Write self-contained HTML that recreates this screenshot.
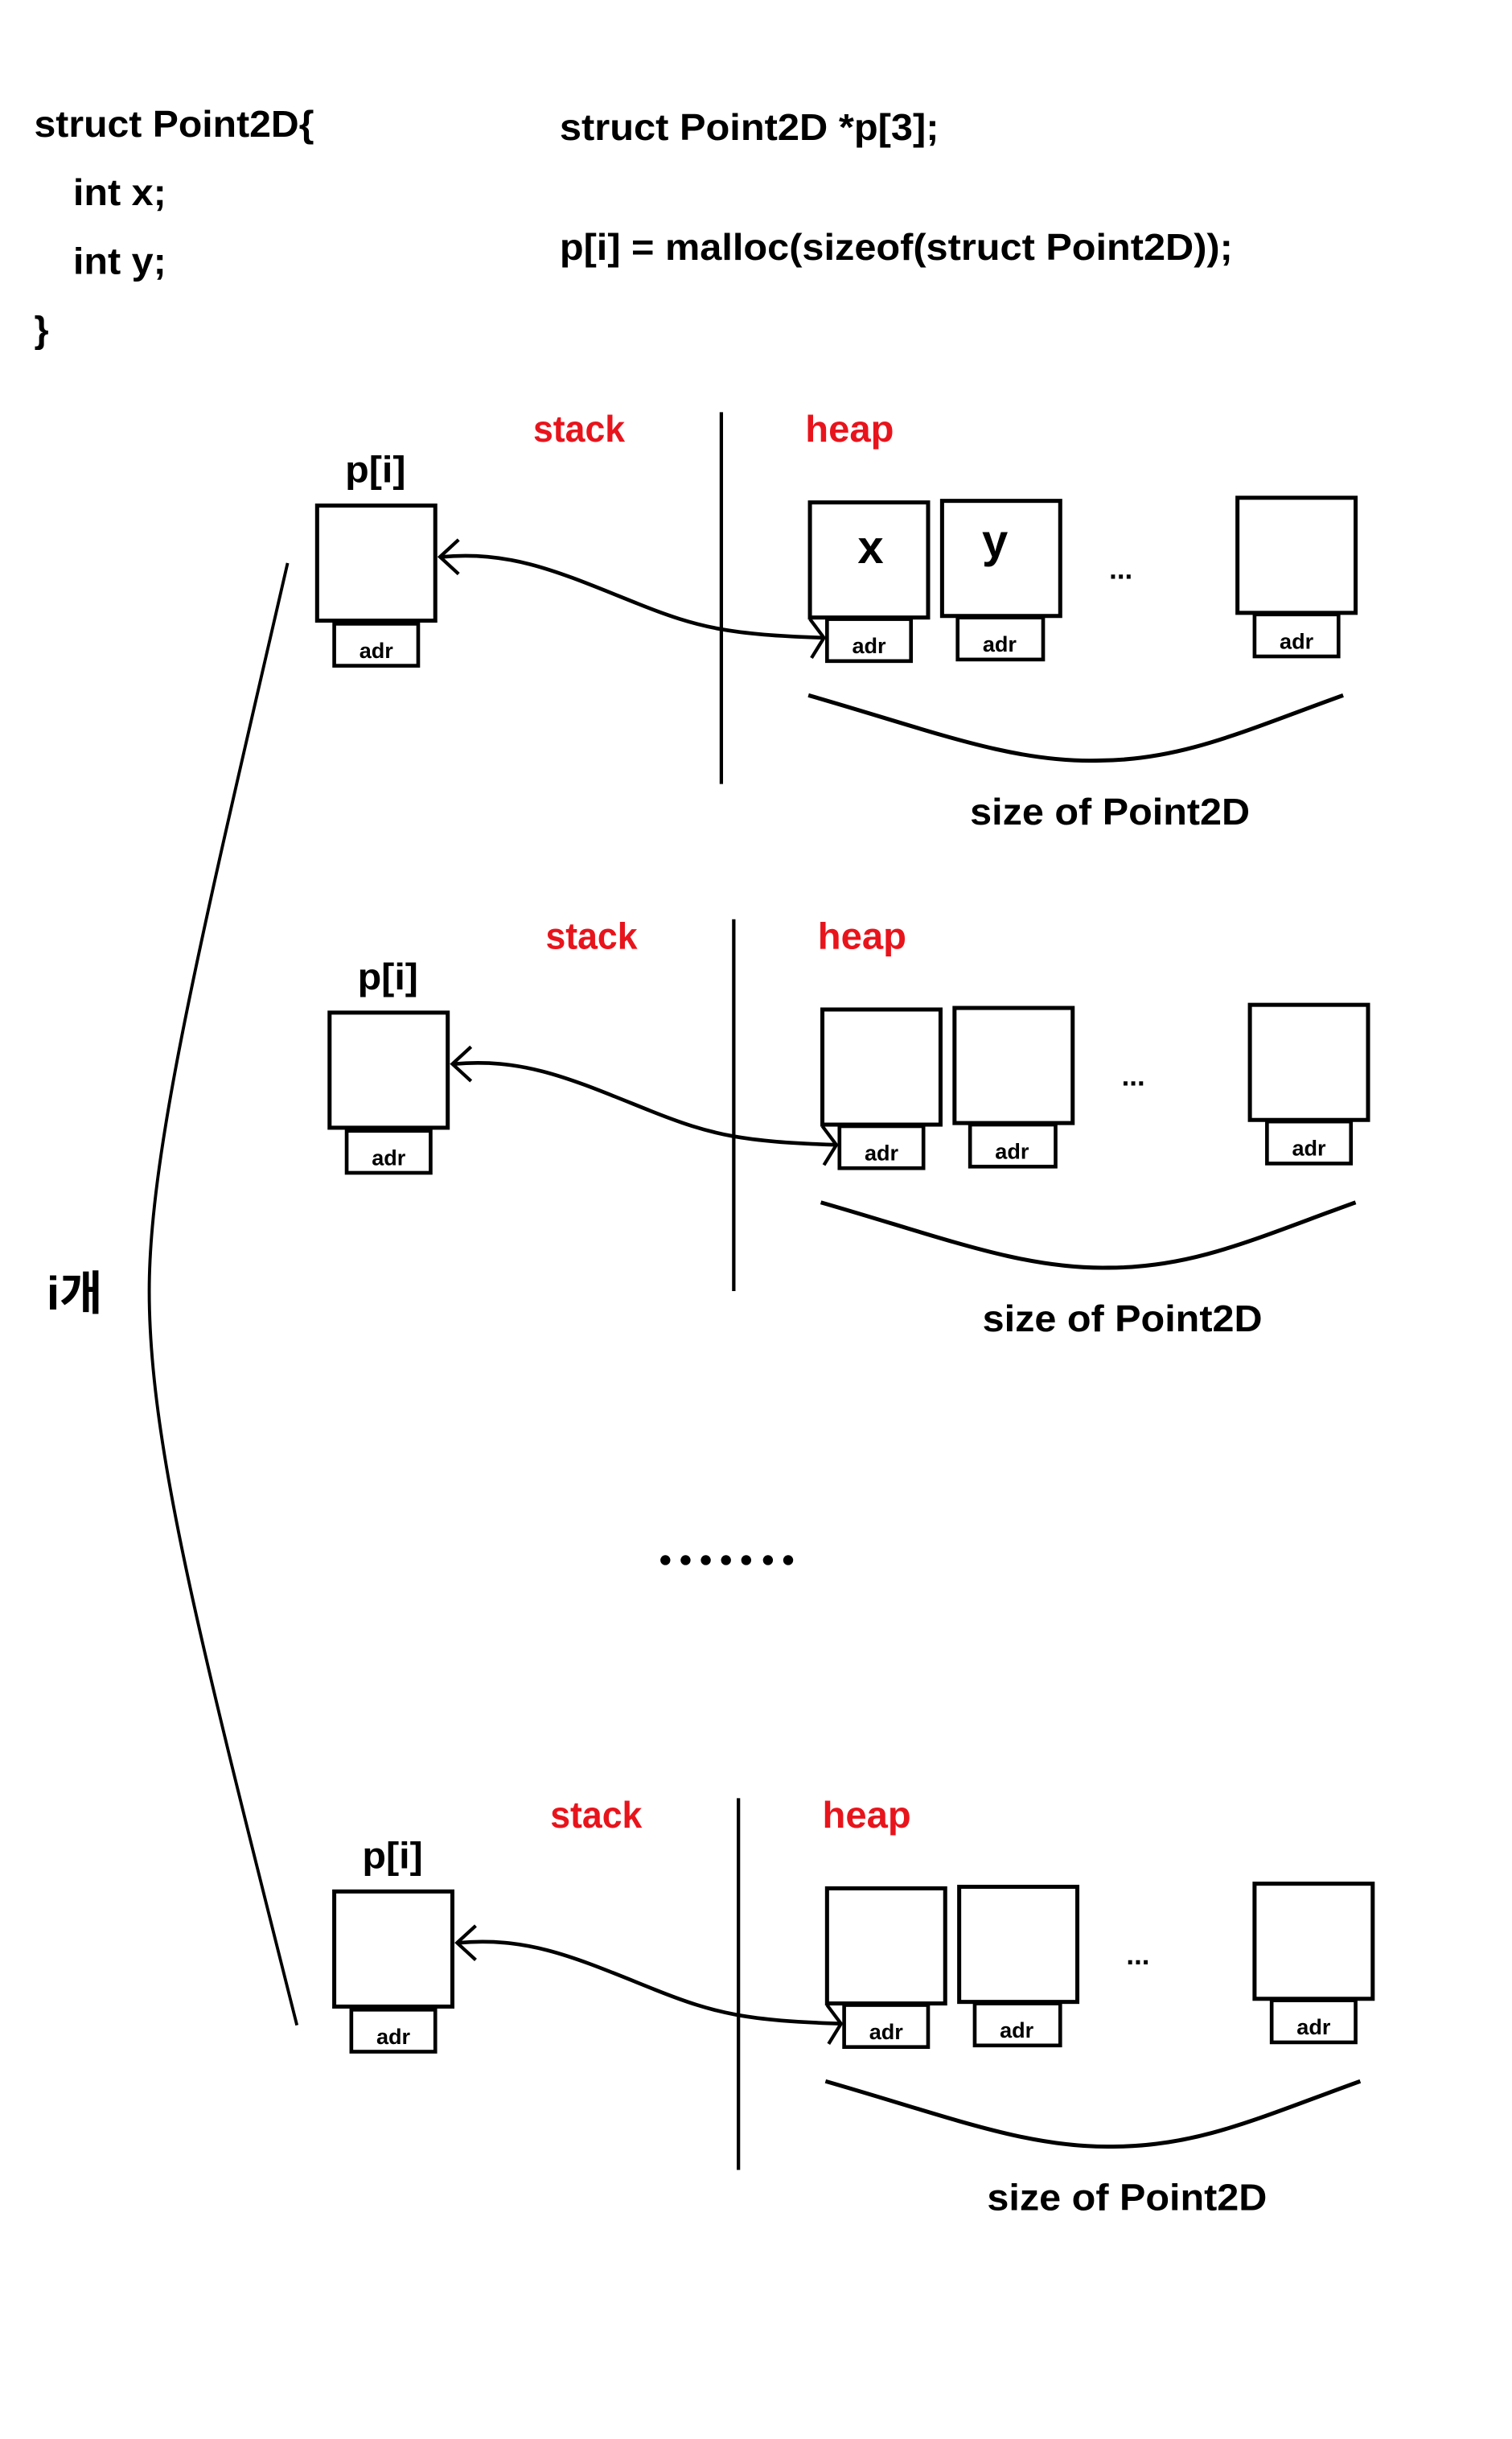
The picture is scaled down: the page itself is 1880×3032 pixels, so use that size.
<!DOCTYPE html>
<html><head><meta charset="utf-8"><style>html,body{margin:0;padding:0;background:#fff}svg{display:block}</style></head>
<body>
<svg xmlns="http://www.w3.org/2000/svg" width="1880" height="3032" viewBox="0 0 972.6 1568" preserveAspectRatio="none">
<defs>
<g id="sec">
  <text x="343" y="284" font-size="24" fill="#e8141c" textLength="59" lengthAdjust="spacingAndGlyphs">stack</text>
  <text x="518" y="284" font-size="24" fill="#e8141c" textLength="57" lengthAdjust="spacingAndGlyphs">heap</text>
  <line x1="464" y1="265" x2="464" y2="504" stroke="#000" stroke-width="2.2"/>
  <text x="222" y="310" font-size="24" textLength="39" lengthAdjust="spacingAndGlyphs">p[i]</text>
  <rect x="204" y="325" width="76" height="74" fill="none" stroke="#000" stroke-width="2.6"/>
  <rect x="215" y="401" width="54" height="27" fill="none" stroke="#000" stroke-width="2.4"/>
  <text x="242" y="423" font-size="14" text-anchor="middle">adr</text>
  <rect x="521" y="323" width="76" height="74" fill="none" stroke="#000" stroke-width="2.6"/>
  <rect x="532" y="398" width="54" height="27" fill="none" stroke="#000" stroke-width="2.4"/>
  <text x="559" y="420" font-size="14" text-anchor="middle">adr</text>
  <rect x="606" y="322" width="76" height="74" fill="none" stroke="#000" stroke-width="2.6"/>
  <rect x="616" y="397" width="55" height="27" fill="none" stroke="#000" stroke-width="2.4"/>
  <text x="643" y="419" font-size="14" text-anchor="middle">adr</text>
  <text x="721" y="372" font-size="18" text-anchor="middle">...</text>
  <rect x="796" y="320" width="76" height="74" fill="none" stroke="#000" stroke-width="2.6"/>
  <rect x="807" y="395" width="54" height="27" fill="none" stroke="#000" stroke-width="2.4"/>
  <text x="834" y="417" font-size="14" text-anchor="middle">adr</text>
  <path d="M520,447 C600,470 650,490 705,489 C760,489 800,470 864,447" fill="none" stroke="#000" stroke-width="2.6"/>
  <text x="624" y="530" font-size="24" textLength="180" lengthAdjust="spacingAndGlyphs">size of Point2D</text>
  <path d="M530,410 C470,408 450,404 410,388 C360,368 330,354 284,358" fill="none" stroke="#000" stroke-width="2.4"/>
  <path d="M295,347 L283,358 L295,369" fill="none" stroke="#000" stroke-width="2.2"/>
  <path d="M521,398 L530,410 L522,423" fill="none" stroke="#000" stroke-width="2.2"/>
</g>
</defs>
<g font-family="Liberation Sans, sans-serif" font-weight="bold" fill="#000">
  <text x="22" y="88" font-size="24" textLength="180" lengthAdjust="spacingAndGlyphs">struct Point2D{</text>
  <text x="47" y="132" font-size="24" textLength="60" lengthAdjust="spacingAndGlyphs">int x;</text>
  <text x="47" y="176" font-size="24" textLength="60" lengthAdjust="spacingAndGlyphs">int y;</text>
  <text x="22" y="220" font-size="24">}</text>
  <text x="360" y="90" font-size="24" textLength="244" lengthAdjust="spacingAndGlyphs">struct Point2D *p[3];</text>
  <text x="360" y="167" font-size="24" textLength="433" lengthAdjust="spacingAndGlyphs">p[i] = malloc(sizeof(struct Point2D));</text>
  <use href="#sec"/>
  <text x="560" y="362" font-size="30" text-anchor="middle">x</text>
  <text x="640" y="358" font-size="30" text-anchor="middle">y</text>
  <use href="#sec" transform="translate(8,326)"/>
  <use href="#sec" transform="translate(11,891)"/>
  <path d="M185,362 C130,600 96,740 96,830 C96,930 130,1060 191,1302" fill="none" stroke="#000" stroke-width="2"/>
  <text x="30" y="842" font-size="30" font-family="Liberation Sans, 'Noto Sans CJK KR', sans-serif">i개</text>
  <g fill="#000">
    <circle cx="428" cy="1003" r="3.2"/><circle cx="441" cy="1003" r="3.2"/><circle cx="454" cy="1003" r="3.2"/><circle cx="467" cy="1003" r="3.2"/><circle cx="480" cy="1003" r="3.2"/><circle cx="494" cy="1003" r="3.2"/><circle cx="507" cy="1003" r="3.2"/>
  </g>
</g>
</svg>
</body></html>
